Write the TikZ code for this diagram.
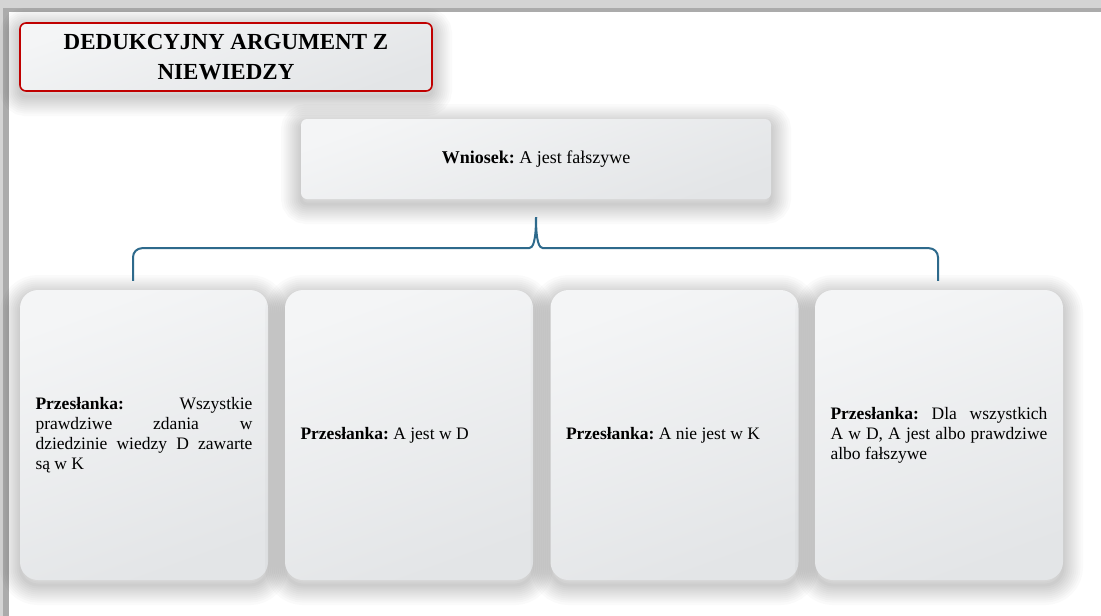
\documentclass[tikz,border=0pt]{standalone}
\usepackage{fontspec}
\setmainfont{Liberation Serif}
\usetikzlibrary{calc}
\definecolor{boxtop}{HTML}{F4F5F6}
\definecolor{boxbot}{HTML}{E3E5E7}
\definecolor{titlered}{HTML}{C00000}
\definecolor{bracecol}{HTML}{2E6A8C}
\definecolor{frameA}{HTML}{D4D4D4}
\definecolor{frameB}{HTML}{ABABAB}
\tikzset{
  shlayer/.style={preaction={draw=black, draw opacity=0.019, line width=#1,
      transform canvas={yshift=-5pt}}},
  softshadow/.style={
    shlayer=3pt, shlayer=7pt, shlayer=11pt, shlayer=15pt, shlayer=19pt,
    shlayer=23pt, shlayer=27pt, shlayer=31pt, shlayer=35pt, shlayer=40pt},
  softbox/.style={softshadow, shading=axis, top color=boxtop, bottom color=boxbot,
    shading angle=20, inner sep=0pt},
  titlebox/.style={softbox, draw=titlered, line width=1.6pt, rounded corners=6pt,
    minimum width=412pt, minimum height=68pt, align=center,
    font=\fontsize{23}{30}\selectfont\bfseries},
  conclbox/.style={softbox, rounded corners=6pt, minimum width=470pt, minimum height=80pt,
    font=\fontsize{18}{21}\selectfont},
  prembox/.style={softbox, rounded corners=18pt, minimum width=248pt, minimum height=290pt,
    text width=217pt, align=justify, font=\fontsize{17.5}{20}\selectfont},
  bracket/.style={draw=bracecol, line width=2pt}
}
\frenchspacing
\begin{document}
\begin{tikzpicture}[x=1pt,y=-1pt]
\useasboundingbox (0,0) rectangle (1101,616);
\fill[white] (0,0) rectangle (1101,616);
% page frame
\fill[frameA] (0,0) rectangle (1101,8);
\fill[frameB] (0,8) rectangle (1101,12);
\fill[frameA] (0,0) rectangle (3,616);
\fill[frameB] (3,8) rectangle (9,616);

\node[titlebox] (title) at (226,57) {DEDUKCYJNY ARGUMENT Z\\NIEWIEDZY};
\node[conclbox] (w) at (536,159) {\textbf{Wniosek:} A jest fałszywe};

\node[prembox] (p1) at (144,435) {\frenchspacing\hyphenpenalty=10000\textbf{Przesłanka:} Wszystkie\linebreak prawdziwe zdania w\linebreak dziedzinie wiedzy D zawarte\linebreak są w K};
\node[prembox] (p2) at (409,435) {\frenchspacing\textbf{Przesłanka:} A jest w D};
\node[prembox] (p3) at (674.5,435) {\frenchspacing\textbf{Przesłanka:} A nie jest w K};
\node[prembox] (p4) at (939,435) {\frenchspacing\hyphenpenalty=10000\textbf{Przesłanka:} Dla wszystkich\linebreak A w D, A jest albo prawdziwe\linebreak albo fałszywe};

\coordinate (tip) at ($(w.south)+(0,18)$);
\coordinate (mid) at ($(w.south)+(0,49)$);
\coordinate (bl) at ($(p1.north)+(-11,-9)$);
\coordinate (br) at ($(p4.north)+(-1,-9)$);

\draw[bracket] (tip) .. controls +(0,24) and +(4,0) .. ($(mid)+(-7,0)$)
  [rounded corners=9pt] -| (bl);
\draw[bracket] (tip) .. controls +(0,24) and +(-4,0) .. ($(mid)+(7,0)$)
  [rounded corners=9pt] -| (br);
\end{tikzpicture}
\end{document}
